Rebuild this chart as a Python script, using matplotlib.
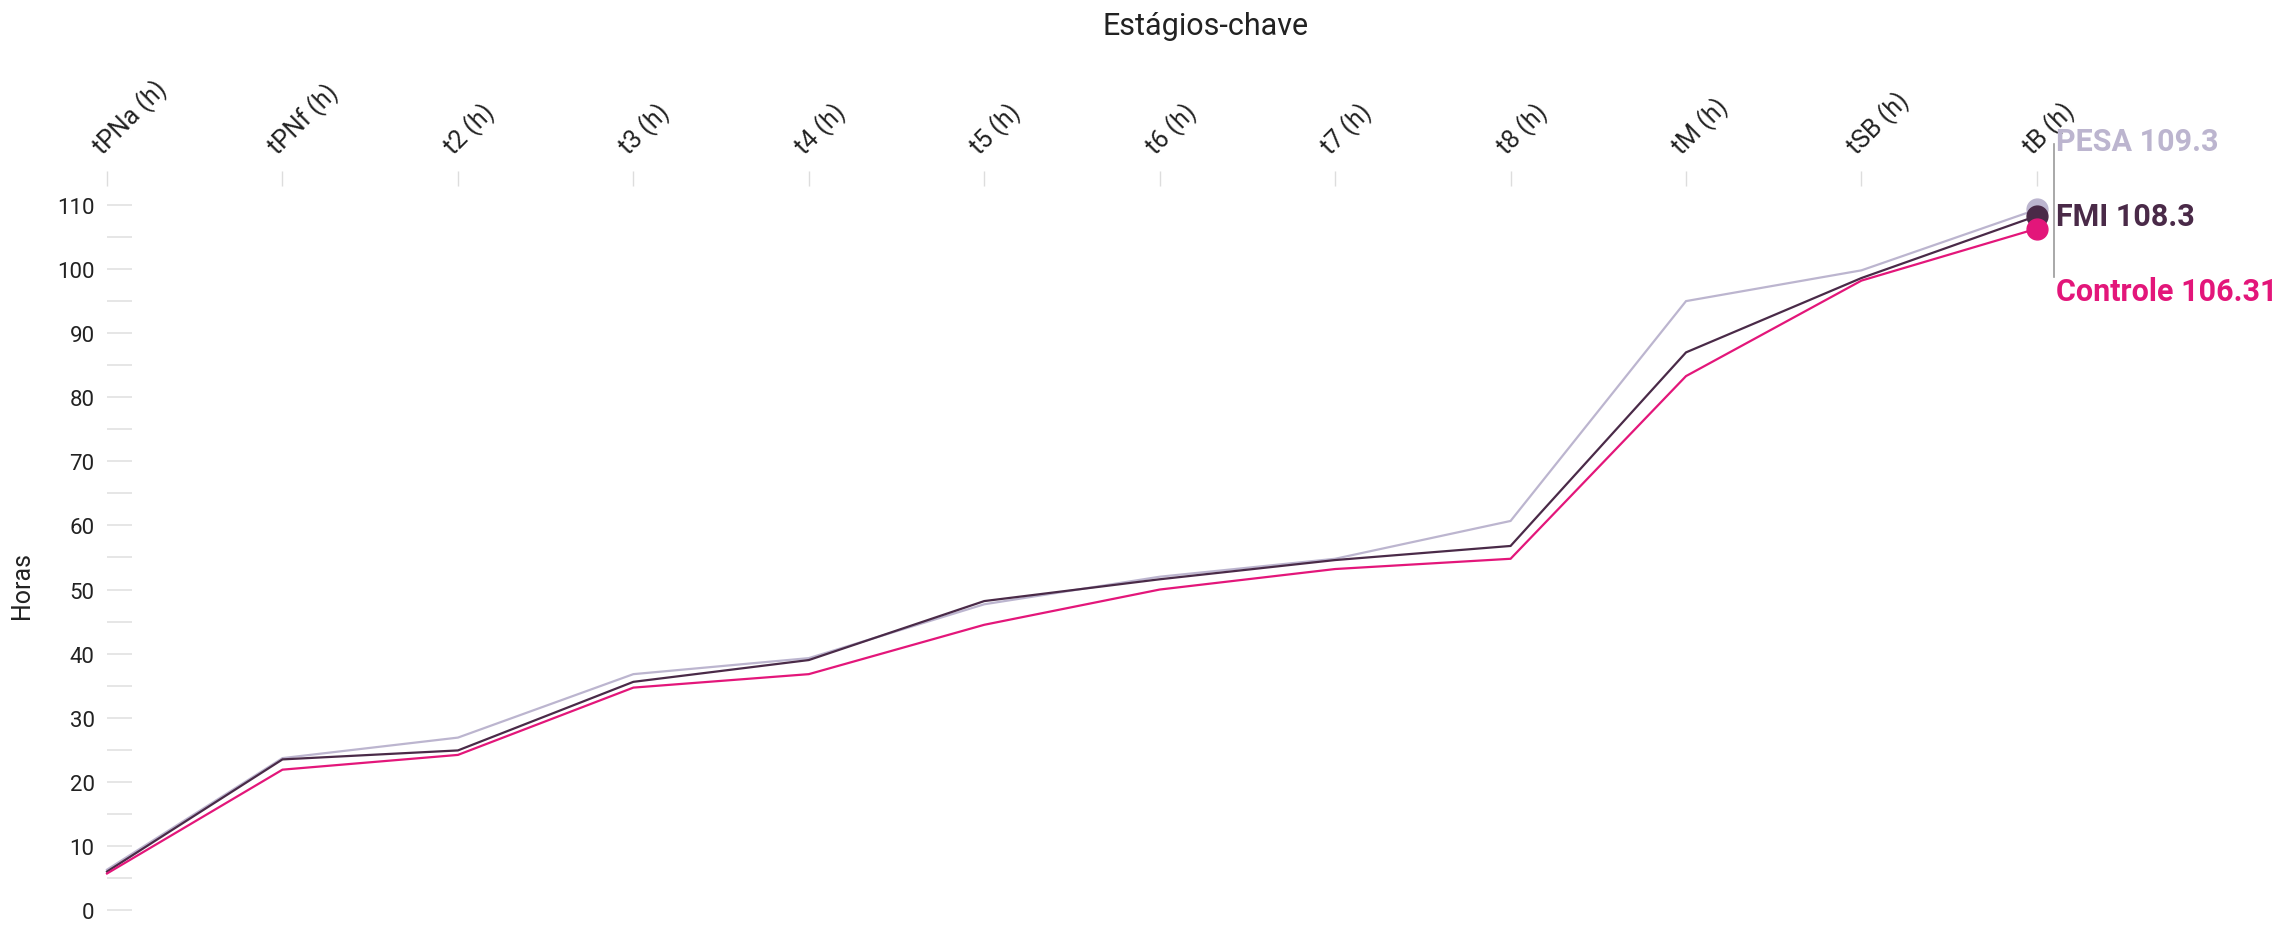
import matplotlib
matplotlib.use("Agg")
import matplotlib.pyplot as plt
import matplotlib.transforms as mtransforms
from matplotlib.ticker import MultipleLocator

plt.rcParams['font.family'] = ['Roboto', 'DejaVu Sans']

# Key embryo development stages (hours)
stages = ["tPNa (h)", "tPNf (h)", "t2 (h)", "t3 (h)", "t4 (h)", "t5 (h)",
          "t6 (h)", "t7 (h)", "t8 (h)", "tM (h)", "tSB (h)", "tB (h)"]

pesa = [6.3, 23.7, 26.9, 36.8, 39.3, 47.7, 52.0, 54.8, 60.7, 95.0, 99.8, 109.3]
fmi = [6.0, 23.5, 24.9, 35.6, 39.0, 48.2, 51.6, 54.6, 56.8, 87.0, 98.6, 108.3]
controle = [5.7, 21.9, 24.2, 34.7, 36.8, 44.5, 50.0, 53.2, 54.8, 83.3, 98.2, 106.31]

series_names = ["PESA", "FMI", "Controle"]
series_values = [pesa, fmi, controle]
series_colors = ["#bcb5cf", "#4a2a48", "#e3167a"]
label_offsets = [49, 0, -45]  # vertical offsets (points) of end labels

fig = plt.figure(figsize=(22.92, 9.29), dpi=100)
ax = fig.add_axes([0.0467, 0.009, 0.842, 0.79])

x = list(range(len(stages)))
for name, vals, col in zip(series_names, series_values, series_colors):
    ax.plot(x, vals, color=col, lw=1.6, solid_joinstyle='miter', zorder=2, clip_on=False)

for name, vals, col in zip(series_names, series_values, series_colors):
    ax.plot(x[-1], vals[-1], 'o', color=col, ms=15, zorder=3, clip_on=False)

for name, vals, col, dy in zip(series_names, series_values, series_colors, label_offsets):
    ax.annotate(f"{name} {vals[-1]:g}", xy=(x[-1], vals[-1]), xytext=(14, dy),
                textcoords='offset points', ha='left', va='center',
                fontsize=22, fontweight='bold', color=col, annotation_clip=False)

# connector between the end labels
conn = mtransforms.offset_copy(ax.transData, fig=fig, x=12.5, y=0, units='points')
ax.plot([x[-1], x[-1]], [119.5, 98.8], color="#9a9a9a", lw=1.2, transform=conn, clip_on=False)

ax.set_xlim(0, len(stages) - 1)
ax.set_ylim(-1.5, 113)

ax.xaxis.tick_top()
ax.set_xticks(x)
ax.set_xticklabels(stages, rotation=45, ha='left', va='bottom', rotation_mode='anchor',
                   fontsize=18, color="#222222")
ax.tick_params(axis='x', length=11, width=1, color="#dddddd", pad=8)

ax.yaxis.set_major_locator(MultipleLocator(10))
ax.yaxis.set_minor_locator(MultipleLocator(5))
ax.tick_params(axis='y', which='both', direction='in', length=18, width=1.2, color="#e2e2e2")
ax.tick_params(axis='y', which='major', labelsize=16, labelcolor="#222222", pad=9)

for s in ax.spines.values():
    s.set_visible(False)

fig.text(0.526, 0.972, "Estágios-chave", ha='center', va='center', fontsize=22, color="#222222")
fig.text(0.0095, 0.37, "Horas", ha='center', va='center', rotation=90, fontsize=18, color="#222222")

fig.savefig("out.png", dpi=100)
